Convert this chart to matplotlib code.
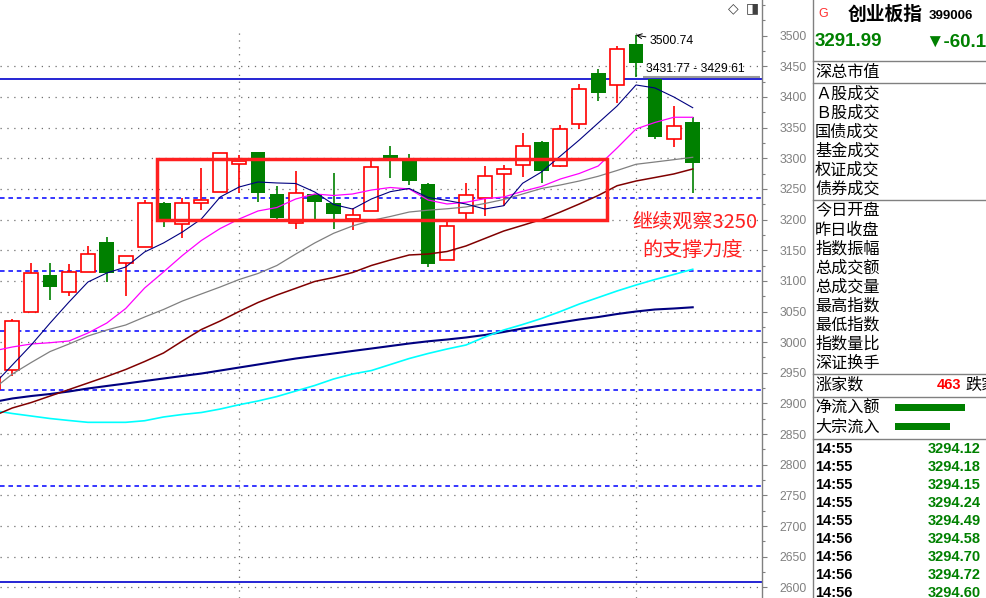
import numpy as np
import matplotlib
matplotlib.use("Agg")
import matplotlib.pyplot as plt
from matplotlib.patches import Rectangle
from matplotlib.ticker import MultipleLocator

plt.rcParams['font.family'] = ['Noto Sans CJK SC', 'DejaVu Sans']
NUM_FONT = ['Liberation Sans', 'DejaVu Sans']

# daily candles of 创业板指 (the first one is cut by the left edge)
opens = [2923.6, 2954.1, 3048.7, 3109.6, 3081.3, 3114.0, 3163.4, 3128.6, 3154.8, 3227.0,
         3192.8, 3226.5, 3245.5, 3290.2, 3310.2, 3241.7, 3193.9, 3241.7, 3227.0, 3201.4,
         3213.5, 3305.3, 3296.0, 3258.0, 3133.5, 3210.2, 3234.7, 3273.9, 3288.5, 3326.6,
         3287.4, 3355.4, 3439.1, 3419.1, 3486.5, 3429.0, 3332.0, 3359.2]
highs = [2945.0, 3037.8, 3129.1, 3129.1, 3127.5, 3157.4, 3172.0, 3140.1, 3231.9, 3228.7,
         3235.7, 3284.1, 3308.1, 3305.3, 3310.2, 3254.8, 3279.2, 3241.7, 3276.0, 3219.4,
         3296.0, 3320.0, 3307.0, 3260.0, 3196.5, 3259.7, 3287.4, 3289.0, 3341.2, 3328.7,
         3353.8, 3421.2, 3445.7, 3483.2, 3500.74, 3429.61, 3384.8, 3366.9]
lows = [2922.0, 2945.3, 3048.7, 3069.3, 3075.8, 3114.0, 3098.6, 3075.8, 3154.8, 3187.4,
        3170.4, 3216.1, 3245.5, 3243.8, 3229.2, 3199.3, 3185.1, 3200.4, 3185.1, 3183.5,
        3213.5, 3267.0, 3256.4, 3123.1, 3133.5, 3200.9, 3205.8, 3222.1, 3269.0, 3260.0,
        3285.8, 3347.3, 3394.0, 3390.7, 3431.77, 3331.0, 3318.9, 3242.9]
closes = [2943.6, 3034.5, 3112.3, 3090.5, 3114.0, 3143.3, 3113.3, 3140.1, 3226.5, 3200.9,
          3226.5, 3231.4, 3308.1, 3295.6, 3243.8, 3203.1, 3242.9, 3229.2, 3209.6, 3207.0,
          3285.3, 3300.5, 3263.4, 3127.0, 3189.0, 3239.6, 3270.6, 3282.0, 3319.5, 3279.7,
          3347.8, 3412.5, 3407.0, 3477.8, 3456.0, 3335.2, 3352.2, 3291.99]

# moving averages
ma5 = [2930.1, 2962.7, 2995.3, 3031.2, 3065.5, 3098.1, 3112.8, 3122.6, 3147.1, 3161.8,
       3179.7, 3200.9, 3236.8, 3253.1, 3261.3, 3259.7, 3258.8, 3245.0, 3224.6, 3217.2,
       3233.6, 3245.5, 3250.7, 3236.0, 3231.1, 3225.4, 3217.2, 3222.6, 3259.2, 3277.6,
       3303.7, 3329.8, 3357.6, 3385.3, 3419.6, 3414.7, 3400.0, 3382.5]
ma10 = [2985.6, 2992.1, 2997.0, 2999.1, 3001.9, 3014.9, 3031.2, 3054.9, 3088.3, 3114.5,
        3141.4, 3165.8, 3185.4, 3200.9, 3214.0, 3219.7, 3233.6, 3241.7, 3239.3, 3241.7,
        3248.2, 3252.3, 3249.9, 3231.9, 3225.4, 3228.2, 3234.1, 3236.8, 3246.1, 3254.0,
        3266.2, 3275.2, 3287.4, 3316.8, 3347.8, 3358.4, 3366.9, 3366.9]
ma20 = [2923.6, 2948.0, 2966.8, 2984.7, 2997.0, 3010.0, 3019.8, 3028.0, 3041.0, 3053.3,
        3067.1, 3078.6, 3090.0, 3102.2, 3112.0, 3125.1, 3143.8, 3161.8, 3177.6, 3189.5,
        3198.5, 3205.0, 3212.3, 3215.3, 3217.6, 3220.5, 3226.2, 3232.7, 3241.7, 3250.7,
        3256.4, 3262.9, 3270.6, 3280.1, 3290.2, 3293.9, 3297.7, 3301.6]
ma30 = [2879.5, 2892.6, 2901.5, 2912.1, 2922.7, 2933.3, 2944.0, 2955.4, 2968.4, 2982.3,
        3001.9, 3020.6, 3034.5, 3050.0, 3064.7, 3076.9, 3087.9, 3099.0, 3105.5, 3113.6,
        3125.1, 3134.0, 3142.2, 3143.8, 3147.9, 3156.9, 3169.1, 3181.3, 3190.6, 3200.1,
        3212.3, 3225.4, 3239.3, 3255.2, 3262.9, 3268.6, 3274.4, 3282.5]
ma60 = [2888.5, 2883.6, 2879.5, 2875.4, 2872.2, 2869.2, 2869.2, 2869.2, 2871.8, 2877.9,
        2882.0, 2885.2, 2890.9, 2897.9, 2904.0, 2911.3, 2920.3, 2929.3, 2939.9, 2948.0,
        2953.7, 2963.5, 2973.3, 2981.5, 2988.8, 2995.3, 3008.4, 3019.8, 3028.8, 3038.6,
        3050.0, 3062.2, 3072.8, 3083.5, 3093.2, 3102.2, 3110.4, 3118.9]
ma120 = [2902.3, 2908.1, 2912.1, 2915.4, 2919.5, 2924.4, 2928.5, 2932.5, 2936.6, 2940.7,
         2944.8, 2948.8, 2953.7, 2958.6, 2963.5, 2968.4, 2973.3, 2977.4, 2981.5, 2985.6,
         2989.6, 2993.7, 2997.8, 3001.4, 3004.3, 3007.6, 3011.7, 3016.6, 3022.3, 3027.2,
         3032.1, 3037.0, 3041.0, 3045.9, 3050.0, 3053.3, 3054.9, 3056.9]

support_lines = [3234.7, 3116.1, 3017.7, 2921.4, 2765.3]   # dashed blue
level_lines = [3429.61, 2608.6]                            # solid blue
box_days = (7.67, 31.47)
box_prices = (3198.8, 3298.3)
note = ["继续观察3250", "的支撑力度"]

# right hand quote panel
stock_name = "创业板指"
stock_code = "399006"
last_price = "3291.99"
change = "▼-60.1"
info_top = ["深总市值"]
info_trade = ["Ａ股成交", "Ｂ股成交", "国债成交", "基金成交", "权证成交", "债券成交"]
info_index = ["今日开盘", "昨日收盘", "指数振幅", "总成交额", "总成交量",
              "最高指数", "最低指数", "指数量比", "深证换手"]
up_count = "463"
flow_labels = ["净流入额", "大宗流入"]
flow_share = [0.78, 0.61]
tick_times = ["14:55", "14:55", "14:55", "14:55", "14:55", "14:56", "14:56", "14:56", "14:56"]
tick_prices = ["3294.12", "3294.18", "3294.15", "3294.24", "3294.49",
               "3294.58", "3294.70", "3294.72", "3294.60"]

o = np.array(opens); h = np.array(highs); l = np.array(lows); c = np.array(closes)
days = np.arange(-1, len(opens) - 1)
up = c >= o

fig = plt.figure(figsize=(9.86, 5.98), dpi=100)
ax = fig.add_axes([0, 0, 762 / 986, 1])
ax.set_xlim(-0.651, 39.666)
ax.set_ylim(2582.6, 3558.2)

# grid
for lev in np.arange(2600, 3451, 50):
    ax.axhline(lev, color='#6E6E6E', lw=0.9, ls=(0, (1, 4.5)), zorder=1)
ax.vlines([12, 33], 2582.6, 3504, color='#6E6E6E', lw=0.9, ls=(0, (1, 4.5)), zorder=1)

for lev in support_lines:
    ax.axhline(lev, color='#0000FF', lw=1.1, ls=(0, (3, 2.5)), zorder=2)
for lev in level_lines:
    ax.axhline(lev, color='#0000CC', lw=1.2, zorder=2)

# candles
red, green = '#FF0000', '#008000'
cols = np.where(up, red, green)
ax.vlines(days, np.maximum(o, c), h, colors=cols, lw=1.2, zorder=3)
ax.vlines(days, l, np.minimum(o, c), colors=cols, lw=1.2, zorder=3)
ax.bar(days[up], (c - o)[up], bottom=o[up], width=0.74, facecolor='white',
       edgecolor=red, linewidth=1.2, zorder=4)
ax.bar(days[~up], (o - c)[~up], bottom=c[~up], width=0.78, color=green,
       linewidth=0, zorder=4)

# moving averages
ax.plot(days, ma120, color='#000080', lw=1.5, zorder=5)
ax.plot(days, ma60, color='#00FFFF', lw=1.2, zorder=5)
ax.plot(days, ma30, color='#800000', lw=1.1, zorder=5)
ax.plot(days, ma20, color='#808080', lw=0.9, zorder=5)
ax.plot(days, ma10, color='#FF00FF', lw=0.9, zorder=5)
ax.plot(days, ma5, color='#000080', lw=0.8, zorder=5)

# gap marker and labels
top = int(np.argmax(h))
ax.hlines(l[top], days[top] + 0.38, 39.56, color='#999999', lw=1.5, zorder=6)
ax.annotate(f"{h[top]:.2f}", xy=(days[top], h[top]), xytext=(14, -6),
            textcoords='offset pixels', ha='left', va='center', fontsize=8.8,
            family=NUM_FONT, zorder=7,
            arrowprops=dict(arrowstyle='->', lw=0.7, color='black',
                            shrinkA=1, shrinkB=0))
ax.annotate(f"{l[top]:.2f} - {h[top + 1]:.2f}", xy=(days[top], l[top]),
            xytext=(10, 8), textcoords='offset pixels', ha='left', va='center',
            fontsize=8.8, family=NUM_FONT, zorder=7)

ax.add_patch(Rectangle((box_days[0], box_prices[0]), box_days[1] - box_days[0],
                       box_prices[1] - box_prices[0], fill=False,
                       ec='#FF2020', lw=2.5, zorder=8))

# price axis on the right
for side in ['top', 'left', 'bottom']:
    ax.spines[side].set_visible(False)
ax.spines['right'].set_color('#808080')
ax.spines['right'].set_linewidth(1)
ax.set_xticks([])
ax.yaxis.tick_right()
ax.set_yticks(np.arange(2600, 3501, 50))
ax.yaxis.set_minor_locator(MultipleLocator(25))
ax.tick_params(axis='y', which='major', direction='out', length=3.6, width=0.8,
               color='#808080', labelcolor='#808080', labelsize=8.8, pad=9.0)
ax.tick_params(axis='y', which='minor', direction='out', length=2.2, width=0.8,
               color='#808080')
for lbl in ax.get_yticklabels():
    lbl.set_fontfamily(NUM_FONT)

# overlay in pixel units for the panel and notes
pan = fig.add_axes([0, 0, 1, 1], zorder=10)
pan.set_xlim(0, 986)
pan.set_ylim(598, 0)
pan.axis('off')
pan.patch.set_visible(False)

pan.text(695, 222, note[0], color='#FF2020', fontsize=14.5, ha='center', va='center')
pan.text(693, 250, note[1], color='#FF2020', fontsize=14.5, ha='center', va='center')

pan.text(733, 8, "◇", fontsize=10, color='#404040', ha='center', va='center',
         family=['DejaVu Sans'])
pan.text(752, 8, "◨", fontsize=10, color='#404040', ha='center', va='center',
         family=['DejaVu Sans'])

pan.plot([812.5, 812.5], [0, 598], color='#808080', lw=1)
for yy in [61.3, 83.3, 200.3, 374, 397.3, 439.3]:
    pan.plot([812.5, 986], [yy, yy], color='#808080', lw=1)

pan.text(818, 14, "G", color='#FF3030', fontsize=9, va='center', family=NUM_FONT)
pan.text(848, 14, stock_name, fontsize=13.5, fontweight='bold', va='center')
pan.text(929, 16, stock_code, fontsize=9.5, fontweight='bold', va='center',
         family=NUM_FONT)
pan.text(815, 42, last_price, color=green, fontsize=13.5, fontweight='bold',
         va='center', family=NUM_FONT)
pan.text(925, 42, change, color=green, fontsize=13.5, fontweight='bold',
         va='center', family=NUM_FONT)

lab_kw = dict(fontsize=11.6, va='center', ha='left', color='black')
pan.text(815, 72, info_top[0], **lab_kw)
for i, s in enumerate(info_trade):
    pan.text(815, 94.5 + 19 * i, s, **lab_kw)
for i, s in enumerate(info_index):
    pan.text(815, 211 + 19.05 * i, s, **lab_kw)
pan.text(815, 385, "涨家数", **lab_kw)
pan.text(961, 385, up_count, color='#FF0000', fontsize=10.5, fontweight='bold',
         ha='right', va='center', family=NUM_FONT)
pan.text(965, 385, "跌家数", **lab_kw)

for i, s in enumerate(flow_labels):
    yy = 408.3 + 19.4 * i
    pan.text(815, yy, s, **lab_kw)
pan.barh([407.5, 426.5], [v * 90 for v in flow_share], left=895, height=6.4,
         color=green)

for i, (t, p) in enumerate(zip(tick_times, tick_prices)):
    yy = 449 + 18.04 * i
    pan.text(815, yy, t, fontsize=10.5, fontweight='bold', va='center',
             family=NUM_FONT)
    pan.text(981, yy, p, color=green, fontsize=10.5, fontweight='bold',
             va='center', ha='right', family=NUM_FONT)

fig.savefig("out.png", dpi=100)
